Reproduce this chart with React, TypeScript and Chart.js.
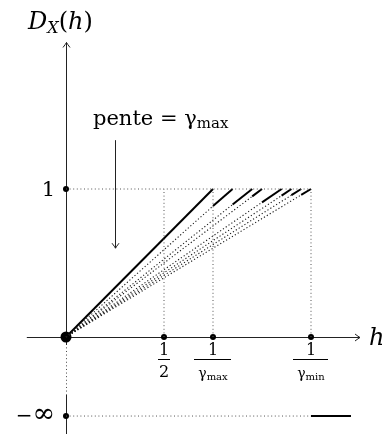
import React, { useEffect, useRef } from "react";
import { Chart, registerables } from "chart.js";
Chart.register(...registerables);

// ---- data ----
const H_HALF = 0.5;
const H_GAMMA_MAX = 0.75; // 1/γmax
const H_GAMMA_MIN = 1.25; // 1/γmin
const NEG_INF = -0.534; // vertical position used for −∞
const TICK_H = [H_HALF, H_GAMMA_MAX, H_GAMMA_MIN];
// main segment (slope γmax)
const MAIN_H = [0, 0.75];
const MAIN_D = [0, 1];
// staircase pieces: each lies on a line through the origin
const SEG_START_H = [0.75, 0.85, 0.95, 1.0, 1.1, 1.15, 1.2];
const SEG_START_D = [0.885, 0.895, 0.95, 0.91, 0.955, 0.958, 0.96];
const SEG_END_H = [0.85, 0.95, 1.0, 1.1, 1.15, 1.2, 1.25];
const SEG_END_D = [1, 1, 1, 1, 1, 1, 1];
// −∞ part
const INF_LINE_H = [1.25, 1.454];

const X_MIN = -66 / 196;
const X_MAX = 316 / 196;
const Y_MIN = -97 / 148;
const Y_MAX = 337 / 148;

const FONT = '"DejaVu Serif", serif';
const DOT = [1, 2.6];

type Run = { t: string; size: number; italic?: boolean; dy?: number };

function runsWidth(ctx: CanvasRenderingContext2D, runs: Run[]) {
  let w = 0;
  for (const r of runs) {
    ctx.font = `${r.italic ? "italic " : ""}${r.size}px ${FONT}`;
    w += ctx.measureText(r.t).width;
  }
  return w;
}
function drawRuns(ctx: CanvasRenderingContext2D, x: number, y: number, runs: Run[], align: "left" | "center" | "right" = "left") {
  const w = runsWidth(ctx, runs);
  let cx = align === "left" ? x : align === "center" ? x - w / 2 : x - w;
  ctx.textBaseline = "alphabetic";
  ctx.textAlign = "left";
  for (const r of runs) {
    ctx.font = `${r.italic ? "italic " : ""}${r.size}px ${FONT}`;
    ctx.fillText(r.t, cx, y + (r.dy || 0));
    cx += ctx.measureText(r.t).width;
  }
}

function arrowHead(ctx: CanvasRenderingContext2D, x: number, y: number, dir: "up" | "down" | "right") {
  ctx.beginPath();
  const L = 5, W = 3.5;
  if (dir === "right") {
    ctx.moveTo(x - L, y - W);
    ctx.quadraticCurveTo(x - 1.5, y - 0.8, x, y);
    ctx.quadraticCurveTo(x - 1.5, y + 0.8, x - L, y + W);
  } else if (dir === "up") {
    ctx.moveTo(x - W, y + L);
    ctx.quadraticCurveTo(x - 0.8, y + 1.5, x, y);
    ctx.quadraticCurveTo(x + 0.8, y + 1.5, x + W, y + L);
  } else {
    ctx.moveTo(x - W, y - L);
    ctx.quadraticCurveTo(x - 0.8, y - 1.5, x, y);
    ctx.quadraticCurveTo(x + 0.8, y - 1.5, x + W, y - L);
  }
  ctx.stroke();
}

const figurePlugin = {
  id: "figure",
  beforeDatasetsDraw(chart: any) {
    const ctx: CanvasRenderingContext2D = chart.ctx;
    const xs = chart.scales.x, ys = chart.scales.y;
    const X = (v: number) => xs.getPixelForValue(v);
    const Y = (v: number) => ys.getPixelForValue(v);
    ctx.save();
    ctx.strokeStyle = "#222";
    ctx.lineWidth = 1;
    // x axis
    const ay = Math.round(Y(0)) + 0.5;
    ctx.beginPath();
    ctx.moveTo(X(-0.2), ay);
    ctx.lineTo(X(1.5), ay);
    ctx.stroke();
    arrowHead(ctx, X(1.5), ay, "right");
    // y axis (broken)
    const ax = Math.round(X(0)) + 0.5;
    ctx.beginPath();
    ctx.moveTo(ax, Y(1.99));
    ctx.lineTo(ax, Y(-0.054));
    ctx.moveTo(ax, Y(-0.39));
    ctx.lineTo(ax, Y(Y_MIN));
    ctx.stroke();
    arrowHead(ctx, ax, Y(1.99), "up");
    ctx.strokeStyle = "#444";
    ctx.setLineDash(DOT);
    ctx.beginPath();
    ctx.moveTo(ax, Y(-0.07));
    ctx.lineTo(ax, Y(-0.39));
    ctx.stroke();
    ctx.setLineDash([]);
    // annotation arrow
    ctx.strokeStyle = "#222";
    ctx.beginPath();
    const arX = Math.round(X(0.25)) + 0.5;
    ctx.moveTo(arX, Y(1.33));
    ctx.lineTo(arX, Y(0.6));
    ctx.stroke();
    arrowHead(ctx, arX, Y(0.6), "down");
    ctx.restore();
  },
  afterDatasetsDraw(chart: any) {
    const ctx: CanvasRenderingContext2D = chart.ctx;
    const xs = chart.scales.x, ys = chart.scales.y;
    const X = (v: number) => xs.getPixelForValue(v);
    const Y = (v: number) => ys.getPixelForValue(v);
    ctx.save();
    ctx.fillStyle = "#000";
    // title D_X(h)
    drawRuns(ctx, 28, 29, [
      { t: "D", size: 24, italic: true },
      { t: "X", size: 16, italic: true, dy: 4 },
      { t: "(", size: 24 },
      { t: "h", size: 24, italic: true },
      { t: ")", size: 24 },
    ]);
    // pente = γmax
    drawRuns(ctx, 93, Y(1.43), [
      { t: "pente = ", size: 21 },
      { t: "γ", size: 21 },
      { t: "max", size: 15, dy: 3 },
    ]);
    // y labels
    drawRuns(ctx, X(0) - 11, Y(1) + 7, [{ t: "1", size: 21 }], "right");
    drawRuns(ctx, X(0) - 11, Y(NEG_INF) + 6, [{ t: "−", size: 20 }, { t: "∞", size: 27 }], "right");
    // h axis label
    drawRuns(ctx, 369, Y(0) + 8, [{ t: "h", size: 24, italic: true }]);
    // tick fraction labels
    const y0 = Y(0);
    const denoms: Run[][] = [
      [{ t: "2", size: 16 }],
      [{ t: "γ", size: 14 }, { t: "max", size: 10, dy: 2 }],
      [{ t: "γ", size: 14 }, { t: "min", size: 10, dy: 2 }],
    ];
    TICK_H.forEach((h, i) => {
      const cx = X(h);
      drawRuns(ctx, cx, y0 + 18, [{ t: "1", size: 16 }], "center");
      const dw = i === 0 ? 12 : runsWidth(ctx, denoms[i]) + 8;
      ctx.fillRect(Math.round(cx - dw / 2), Math.round(y0 + 22), Math.round(dw), 1);
      drawRuns(ctx, cx, y0 + (i === 0 ? 40 : 41), denoms[i], "center");
    });
    ctx.restore();
  },
};

export default function App() {
  const ref = useRef<HTMLCanvasElement>(null);
  useEffect(() => {
    if (!ref.current) return;
    const pts = (hs: number[], ds: number[]) => hs.map((h, i) => ({ x: h, y: ds[i] }));
    const datasets: any[] = [];
    const guide = { showLine: true, borderColor: "#555", borderWidth: 1, borderDash: DOT, pointRadius: 0, fill: false };
    // dotted guides
    datasets.push({ ...guide, data: [{ x: 0, y: 1 }, { x: H_GAMMA_MIN, y: 1 }] });
    TICK_H.forEach((h) => datasets.push({ ...guide, data: [{ x: h, y: 0 }, { x: h, y: 1 }] }));
    datasets.push({ ...guide, data: [{ x: 0, y: NEG_INF }, { x: INF_LINE_H[0], y: NEG_INF }] });
    // dotted fan lines from origin to each staircase piece
    SEG_START_H.forEach((h, i) =>
      datasets.push({ ...guide, borderColor: "#1a1a1a", borderWidth: 1.1, borderDash: [1.2, 2.2], data: [{ x: 0, y: 0 }, { x: h, y: SEG_START_D[i] }] })
    );
    // main line
    datasets.push({ showLine: true, borderColor: "#000", borderWidth: 2, pointRadius: 0, data: pts(MAIN_H, MAIN_D) });
    // staircase pieces
    SEG_START_H.forEach((h, i) =>
      datasets.push({
        showLine: true,
        borderColor: "#000",
        borderWidth: 2,
        pointRadius: 0,
        data: [{ x: h, y: SEG_START_D[i] }, { x: SEG_END_H[i], y: SEG_END_D[i] }],
      })
    );
    // −∞ solid piece
    datasets.push({
      showLine: true, borderColor: "#000", borderWidth: 2, pointRadius: 0,
      data: [{ x: INF_LINE_H[0], y: NEG_INF }, { x: INF_LINE_H[1], y: NEG_INF }],
    });
    // dots
    datasets.push({
      showLine: false,
      backgroundColor: "#000",
      borderWidth: 0,
      pointRadius: [5.5, 3, 3, 3, 3, 3],
      data: [
        { x: 0, y: 0 },
        { x: 0, y: 1 },
        { x: H_HALF, y: 0 },
        { x: H_GAMMA_MAX, y: 0 },
        { x: H_GAMMA_MIN, y: 0 },
        { x: 0, y: NEG_INF },
      ],
    });
    const chart = new Chart(ref.current, {
      type: "scatter",
      data: { datasets },
      options: {
        animation: false,
        responsive: false,
        maintainAspectRatio: false,
        layout: { padding: 0, autoPadding: false },
        plugins: { legend: { display: false }, tooltip: { enabled: false } },
        scales: {
          x: { type: "linear", min: X_MIN, max: X_MAX, display: false },
          y: { type: "linear", min: Y_MIN, max: Y_MAX, display: false },
        },
        elements: { line: { tension: 0 } },
      },
      plugins: [figurePlugin],
    });
    return () => chart.destroy();
  }, []);
  return (
    <div style={{ position: "absolute", left: 0, top: 0, width: 382, height: 434, background: "#fff" }}>
      <canvas ref={ref} width={382} height={434} style={{ width: 382, height: 434, display: "block" }} />
    </div>
  );
}
